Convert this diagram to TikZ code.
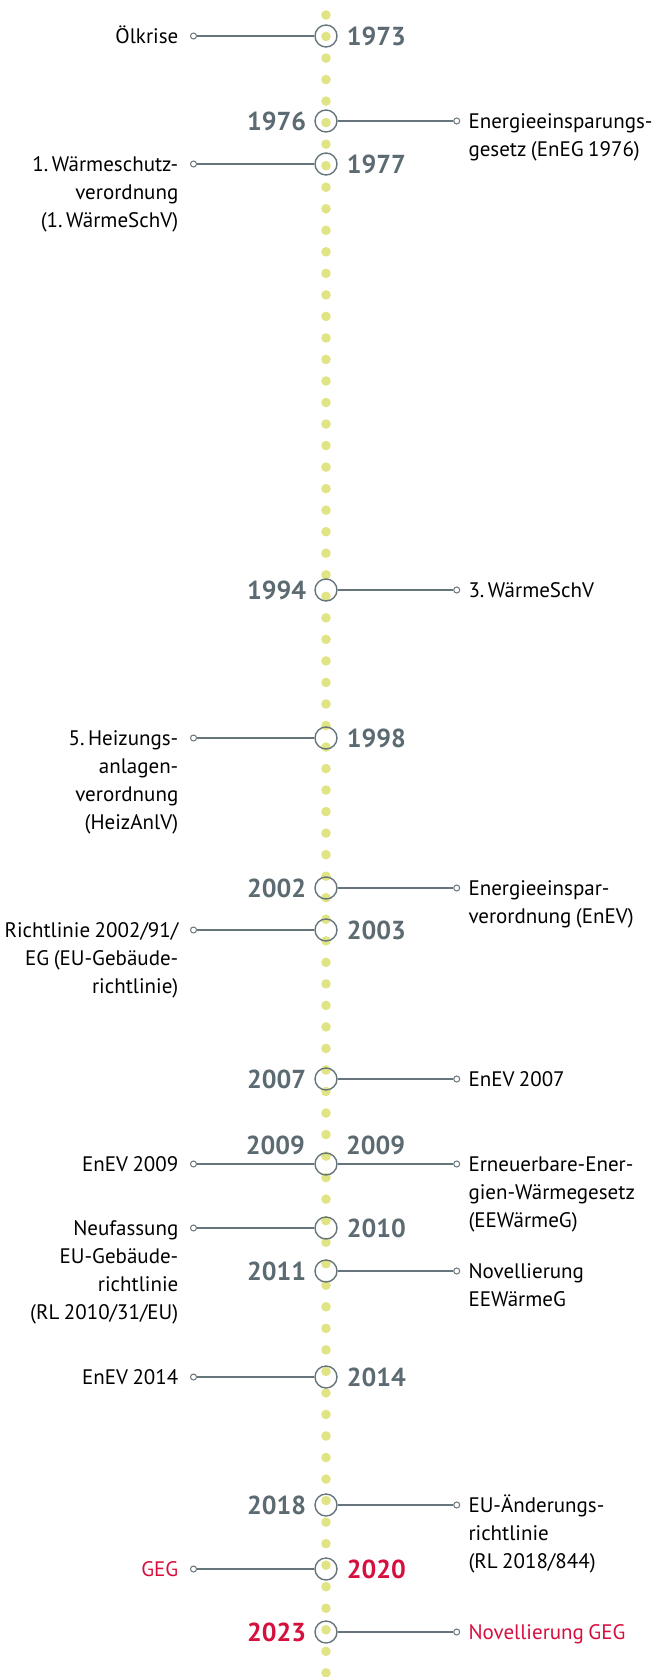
\documentclass[tikz,border=0pt]{standalone}
\usepackage{fontspec}
\setmainfont[WordSpace=0.8]{PT Sans}
\usetikzlibrary{positioning}

\definecolor{dotyellow}{HTML}{E1E484}
\definecolor{linegrey}{HTML}{66757C}
\definecolor{yeargrey}{HTML}{5C6A71}
\definecolor{markred}{HTML}{D5103E}

% text blocks hang from their first line
\newcommand{\lblock}[1]{\begin{tabular}[t]{@{}r@{}}#1\end{tabular}}
\newcommand{\rblock}[1]{\begin{tabular}[t]{@{}l@{}}#1\end{tabular}}

\tikzset{
  yearring/.style={circle, draw=linegrey, line width=1.4pt, minimum size=22pt, inner sep=0pt},
  endring/.style={circle, draw=linegrey, fill=white, line width=1pt, minimum size=6pt, inner sep=0pt},
  link/.style={draw=linegrey, line width=1.4pt},
  yeartxt/.style={font=\bfseries\fontsize{26}{26}\selectfont, text=yeargrey, inner sep=0pt},
  evleft/.style={font=\fontsize{21}{28}\selectfont, anchor=base east, inner sep=0pt},
  evright/.style={font=\fontsize{21}{28}\selectfont, anchor=base west, inner sep=0pt},
}

\begin{document}
\begin{tikzpicture}[x=1pt, y=-1pt]
        \useasboundingbox (0,0) rectangle (659,1677);

        % === DOTTED TIME LINE ===
        \foreach \k in {0,...,77}
            \fill[dotyellow] (326,{15+21.53*\k}) circle (4.8);

        % === 1973 ===
        \node[yearring] (r1973) at (326,36) {};
        \node[endring] (e1973) at (193.5,36) {};
        \node[evleft] (t1973) at (178.5,43.3) {\lblock{Ölkrise}};
        \node[yeartxt, right=9pt of r1973] (y1973) {1973};
        \draw[link] (r1973) -- (e1973);

        % === 1976 ===
        \node[yearring] (r1976) at (326,121) {};
        \node[endring] (e1976) at (456.7,121) {};
        \node[evright] (t1976) at (468.3,128.3) {\rblock{Energieeinsparungs-\\gesetz (EnEG 1976)}};
        \node[yeartxt, left=8pt of r1976] (y1976) {1976};
        \draw[link] (r1976) -- (e1976);

        % === 1977 ===
        \node[yearring] (r1977) at (326,164) {};
        \node[endring] (e1977) at (193.5,164) {};
        \node[evleft] (t1977) at (178.5,171.3) {\lblock{1.\,Wärmeschutz-\\verordnung\\(1.\,WärmeSchV)}};
        \node[yeartxt, right=9pt of r1977] (y1977) {1977};
        \draw[link] (r1977) -- (e1977);

        % === 1994 ===
        \node[yearring] (r1994) at (326,590) {};
        \node[endring] (e1994) at (456.7,590) {};
        \node[evright] (t1994) at (468.3,597.3) {\rblock{3.\,WärmeSchV}};
        \node[yeartxt, left=8pt of r1994] (y1994) {1994};
        \draw[link] (r1994) -- (e1994);

        % === 1998 ===
        \node[yearring] (r1998) at (326,738) {};
        \node[endring] (e1998) at (193.5,738) {};
        \node[evleft] (t1998) at (178.5,745.3) {\lblock{5.\,Heizungs-\\anlagen-\\verordnung\\(HeizAnlV)}};
        \node[yeartxt, right=9pt of r1998] (y1998) {1998};
        \draw[link] (r1998) -- (e1998);

        % === 2002 ===
        \node[yearring] (r2002) at (326,888) {};
        \node[endring] (e2002) at (456.7,888) {};
        \node[evright] (t2002) at (468.3,895.3) {\rblock{Energieeinspar-\\verordnung (EnEV)}};
        \node[yeartxt, left=8pt of r2002] (y2002) {2002};
        \draw[link] (r2002) -- (e2002);

        % === 2003 ===
        \node[yearring] (r2003) at (326,930) {};
        \node[endring] (e2003) at (193.5,930) {};
        \node[evleft] (t2003) at (178.5,937.3) {\lblock{Richtlinie 2002/91/\\EG (EU-Gebäude-\\richtlinie)}};
        \node[yeartxt, right=9pt of r2003] (y2003) {2003};
        \draw[link] (r2003) -- (e2003);

        % === 2007 ===
        \node[yearring] (r2007) at (326,1079) {};
        \node[endring] (e2007) at (456.7,1079) {};
        \node[evright] (t2007) at (468.3,1086.3) {\rblock{EnEV 2007}};
        \node[yeartxt, left=8pt of r2007] (y2007) {2007};
        \draw[link] (r2007) -- (e2007);

        % === 2009 (both sides) ===
        \node[yearring] (r2009) at (326,1164) {};
        \node[endring] (e2009l) at (193.5,1164) {};
        \node[endring] (e2009r) at (456.7,1164) {};
        \node[evleft] (t2009l) at (178.5,1171.3) {\lblock{EnEV 2009}};
        \node[evright] (t2009r) at (468.3,1171.3) {\rblock{Erneuerbare-Ener-\\gien-Wärmegesetz\\(EEWärmeG)}};
        \node[yeartxt, anchor=east] (y2009l) at (305,1145) {2009};
        \node[yeartxt, anchor=west] (y2009r) at (346,1145) {2009};
        \draw[link] (r2009) -- (e2009l);
        \draw[link] (r2009) -- (e2009r);

        % === 2010 ===
        \node[yearring] (r2010) at (326,1228) {};
        \node[endring] (e2010) at (193.5,1228) {};
        \node[evleft] (t2010) at (178.5,1235.3) {\lblock{Neufassung\\EU-Gebäude-\\richtlinie\\(RL 2010/31/EU)}};
        \node[yeartxt, right=9pt of r2010] (y2010) {2010};
        \draw[link] (r2010) -- (e2010);

        % === 2011 ===
        \node[yearring] (r2011) at (326,1271) {};
        \node[endring] (e2011) at (456.7,1271) {};
        \node[evright] (t2011) at (468.3,1278.3) {\rblock{Novellierung\\EEWärmeG}};
        \node[yeartxt, left=8pt of r2011] (y2011) {2011};
        \draw[link] (r2011) -- (e2011);

        % === 2014 ===
        \node[yearring] (r2014) at (326,1377) {};
        \node[endring] (e2014) at (193.5,1377) {};
        \node[evleft] (t2014) at (178.5,1384.3) {\lblock{EnEV 2014}};
        \node[yeartxt, right=9pt of r2014] (y2014) {2014};
        \draw[link] (r2014) -- (e2014);

        % === 2018 ===
        \node[yearring] (r2018) at (326,1505) {};
        \node[endring] (e2018) at (456.7,1505) {};
        \node[evright] (t2018) at (468.3,1512.3) {\rblock{EU-Änderungs-\\richtlinie\\(RL 2018/844)}};
        \node[yeartxt, left=8pt of r2018] (y2018) {2018};
        \draw[link] (r2018) -- (e2018);

        % === 2020 ===
        \node[yearring] (r2020) at (326,1569) {};
        \node[endring] (e2020) at (193.5,1569) {};
        \node[evleft, text=markred] (t2020) at (178.5,1576.3) {\lblock{GEG}};
        \node[yeartxt, text=markred, right=9pt of r2020] (y2020) {2020};
        \draw[link] (r2020) -- (e2020);

        % === 2023 ===
        \node[yearring] (r2023) at (326,1632) {};
        \node[endring] (e2023) at (456.7,1632) {};
        \node[evright, text=markred] (t2023) at (468.3,1639.3) {\rblock{Novellierung GEG}};
        \node[yeartxt, text=markred, left=8pt of r2023] (y2023) {2023};
        \draw[link] (r2023) -- (e2023);

    \end{tikzpicture}
\end{document}
